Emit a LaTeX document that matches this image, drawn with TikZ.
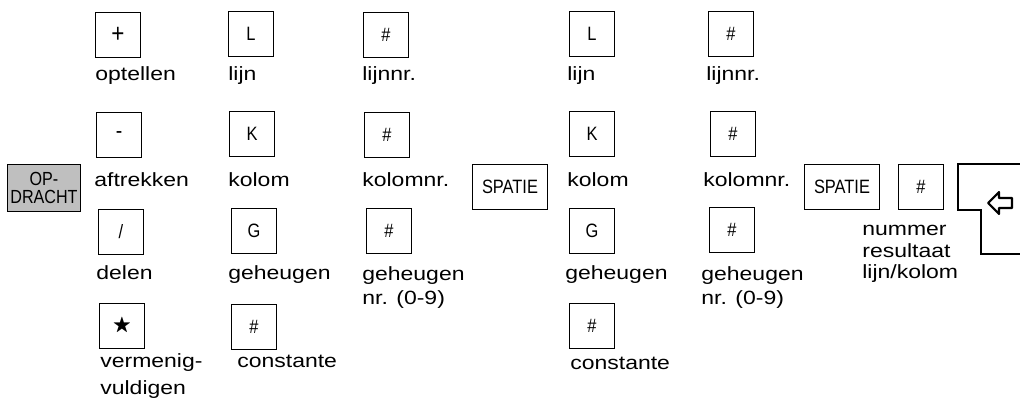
\documentclass[tikz,border=0pt]{standalone}
\usepackage{amssymb}
\usepackage{fontspec}
\setmainfont{Liberation Sans}[FakeStretch=1.2]
\newfontfamily\keyfont{Liberation Sans}[FakeStretch=0.85]
\usetikzlibrary{positioning}

\begin{document}
\begin{tikzpicture}[
    x=0.02cm, y=-0.02cm,
    key/.style={draw, line width=0.7pt, fill=white, minimum width=0.9cm, minimum height=0.9cm, inner sep=0pt, font=\keyfont\fontsize{11}{11}\selectfont},
    widekey/.style={key, minimum width=1.5cm},
    cmdkey/.style={key, fill=gray!50, minimum width=1.46cm, minimum height=0.94cm, align=center, font=\keyfont\fontsize{10.8}{10.5}\selectfont},
    lbl/.style={anchor=base west, inner sep=0pt, align=left, font=\fontsize{10.9}{11.4}\selectfont},
]
\useasboundingbox (0,0) rectangle (1020,404);

% command key and the two spaces
\node[cmdkey] (cmd) at (44,188) {OP-\\DRACHT};
\node[widekey] (spa) at (510,187) {SPATIE};
\node[widekey] (spb) at (842,187) {SPATIE};
\node[key] (res) at (921,187) {\#};

% first group
\node[key] (add) at (118,35) {\fontsize{15}{15}\selectfont +};
\node[key] (sub) at (119,135) {\fontsize{13}{13}\selectfont -};
\node[key] (div) at (121,232) {/};
\node[key] (mul) at (122,326) {$\bigstar$};

\node[key] (lin) at (251,34) {L};
\node[key] (col) at (252,134) {K};
\node[key] (mem) at (254,231) {G};
\node[key] (con) at (254,327) {\#};

\node[key] (linnr) at (386,35) {\#};
\node[key] (colnr) at (387,135) {\#};
\node[key] (memnr) at (389,231) {\#};

% second group
\node[key] (linb) at (592,34) {L};
\node[key] (colb) at (592,134) {K};
\node[key] (memb) at (592,231) {G};
\node[key] (conb) at (592,326) {\#};

\node[key] (linnrb) at (731,34) {\#};
\node[key] (colnrb) at (733,134) {\#};
\node[key] (memnrb) at (732,230) {\#};

% return key
\draw[line width=0.7pt] (1020,164) -- (958,164) -- (958,210) -- (981,210) -- (981,254) -- (1020,254);
\draw[line width=1.2pt, line join=round] (988,203) -- (999,192) -- (999,198) -- (1012,198) -- (1012,208) -- (999,208) -- (999,214) -- cycle;

% labels (multi-line: last baseline)
\node[lbl] (tadd) at (95,81) {optellen};
\node[lbl] (tsub) at (94,187) {aftrekken};
\node[lbl] (tdiv) at (96,280) {delen};
\node[lbl] (tmul) at (100,395) {vermenig-\\[4pt]vuldigen};

\node[lbl] (tlin) at (228,81) {lijn};
\node[lbl] (tcol) at (228,187) {kolom};
\node[lbl] (tmem) at (228,280) {geheugen};
\node[lbl] (tcon) at (237,368) {constante};

\node[lbl] (tlinnr) at (362,81) {lijnnr.};
\node[lbl] (tcolnr) at (362,187) {kolomnr.};
\node[lbl] (tmemnr) at (362,305) {geheugen\\[2.8pt]nr. (0-9)};

\node[lbl] (tlinb) at (567,81) {lijn};
\node[lbl] (tcolb) at (567,187) {kolom};
\node[lbl] (tmemb) at (565,280) {geheugen};
\node[lbl] (tconb) at (570,370) {constante};

\node[lbl] (tlinnrb) at (706,81) {lijnnr.};
\node[lbl] (tcolnrb) at (703,187) {kolomnr.};
\node[lbl] (tmemnrb) at (701,305) {geheugen\\[2.8pt]nr. (0-9)};

\node[lbl] (tres) at (862,279) {nummer\\[1pt]resultaat\\[1pt]lijn/kolom};

\end{tikzpicture}
\end{document}
